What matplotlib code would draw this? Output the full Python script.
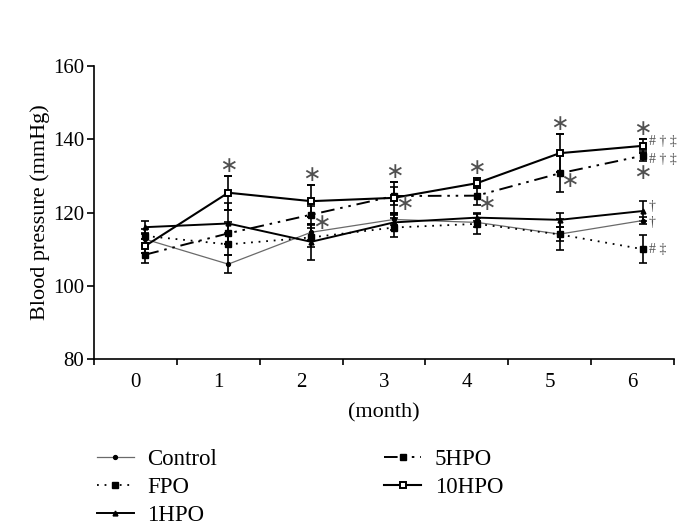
#!/usr/bin/env python3
"""Blood pressure over six months for the control and PO-treated groups."""

import matplotlib

matplotlib.use("Agg")
import matplotlib.pyplot as plt
from matplotlib.ticker import FixedLocator

plt.rcParams["font.family"] = ["Liberation Serif", "DejaVu Serif"]

months = [0, 1, 2, 3, 4, 5, 6]
month_labels = ["0", "1", "2", "3", "4", "5", "6"]

control = [112.7, 105.9, 114.6, 118.1, 117.3, 114.1, 117.8]
control_err = [1.5, 2.5, 2.0, 1.5, 1.2, 2.0, 1.0]
fpo = [113.6, 111.3, 113.2, 115.9, 116.9, 114.0, 110.0]
fpo_err = [1.8, 3.0, 2.5, 2.5, 2.9, 4.2, 3.8]
hpo1 = [116.0, 117.0, 112.0, 117.3, 118.6, 118.0, 120.4]
hpo1_err = [1.6, 5.7, 4.9, 2.0, 1.0, 2.0, 2.7]
hpo5 = [108.5, 114.3, 119.4, 124.5, 124.6, 130.7, 135.5]
hpo5_err = [2.4, 3.0, 2.5, 2.5, 2.6, 5.0, 1.3]
hpo10 = [110.9, 125.4, 123.1, 124.0, 128.0, 136.2, 138.2]
hpo10_err = [2.0, 4.6, 4.4, 4.2, 1.3, 5.2, 2.0]

# significance marks
star_above_10hpo = [1, 2, 3, 4, 5, 6]
star_beside_5hpo = [2, 3, 4, 5]
star_below_5hpo = [6]
end_marks = {
    "Control": "†",
    "FPO": "# ‡",
    "1HPO": "†",
    "5HPO": "# † ‡",
    "10HPO": "# † ‡",
}
# small vertical nudges (pixels) so stacked marks don't collide
end_nudge = {"Control": -2, "FPO": 0, "1HPO": 5, "5HPO": -4, "10HPO": 4}

X_SHIFT = 0.12
MARK_COLOR = "#505050"

series = [
    ("Control", control, control_err,
     dict(color="#6a6a6a", lw=0.9, ls="-", marker="o", ms=2.8, mfc="black", mec="black")),
    ("FPO", fpo, fpo_err,
     dict(color="black", lw=1.3, ls=(0, (1, 3.2)), marker="s", ms=4, mfc="black", mec="black")),
    ("1HPO", hpo1, hpo1_err,
     dict(color="black", lw=1.4, ls="-", marker="^", ms=3.5, mfc="black", mec="black")),
    ("5HPO", hpo5, hpo5_err,
     dict(color="black", lw=1.4, ls=(0, (7, 3, 1.3, 3, 1.3, 3)), marker="s", ms=4.5,
          mfc="black", mec="black")),
    ("10HPO", hpo10, hpo10_err,
     dict(color="black", lw=1.5, ls="-", marker="s", ms=4.2, mfc="white", mec="black",
          mew=1.4)),
]

fig = plt.figure(figsize=(7.0, 5.32), dpi=100)
ax = fig.add_axes([0.1343, 0.3252, 0.8286, 0.5507])

xs = [m + X_SHIFT for m in months]
handles = []
for name, vals, errs, style in series:
    eb = ax.errorbar(xs, vals, yerr=errs, capsize=3, elinewidth=1.2, capthick=1.2,
                     ecolor="black", label=name, **style)
    eb[-1][0].set_linestyle("-")
    handles.append(eb[0])

# asterisks
star_kw = dict(textcoords="offset pixels", ha="center", va="center", fontsize=16,
               color=MARK_COLOR, family="DejaVu Sans")
for m in star_above_10hpo:
    ax.annotate("∗", (m + X_SHIFT, hpo10[m] + hpo10_err[m]), xytext=(0, 10), **star_kw)
for m in star_beside_5hpo:
    ax.annotate("∗", (m + X_SHIFT, hpo5[m]), xytext=(10, -8), **star_kw)
for m in star_below_5hpo:
    ax.annotate("∗", (m + X_SHIFT, hpo5[m] - hpo5_err[m]), xytext=(0, -12), **star_kw)

for name, vals, errs, style in series:
    ax.annotate(end_marks[name], (months[-1] + X_SHIFT, vals[-1]),
                xytext=(6, end_nudge[name]), textcoords="offset pixels",
                ha="left", va="center", fontsize=10, color=MARK_COLOR)

ax.set_xlim(-0.5, 6.5)
ax.set_ylim(80, 160)
ax.set_yticks([80, 100, 120, 140, 160])
ax.set_xticks(months)
ax.set_xticklabels(month_labels)
ax.xaxis.set_minor_locator(FixedLocator([m - 0.5 for m in months] + [6.5]))
ax.tick_params(axis="x", which="major", length=0, pad=10, labelsize=15)
ax.tick_params(axis="x", which="minor", length=4, width=1.2, direction="out")
ax.tick_params(axis="y", length=5, width=1.2, direction="out", pad=2, labelsize=15)

for side in ("top", "right"):
    ax.spines[side].set_visible(False)
for side in ("left", "bottom"):
    ax.spines[side].set_linewidth(1.2)

ax.set_xlabel("(month)", fontsize=16, labelpad=8)
ax.set_ylabel("Blood pressure (mmHg)", fontsize=16, labelpad=2)

fig.legend(handles=handles, labels=[s[0] for s in series], ncol=2, frameon=False,
           loc="upper left", bbox_to_anchor=(0.122, 0.178), fontsize=16.5,
           handlelength=1.6, handletextpad=0.6, columnspacing=7.3, labelspacing=0.3,
           borderpad=0)

fig.savefig("out.png", dpi=100)
